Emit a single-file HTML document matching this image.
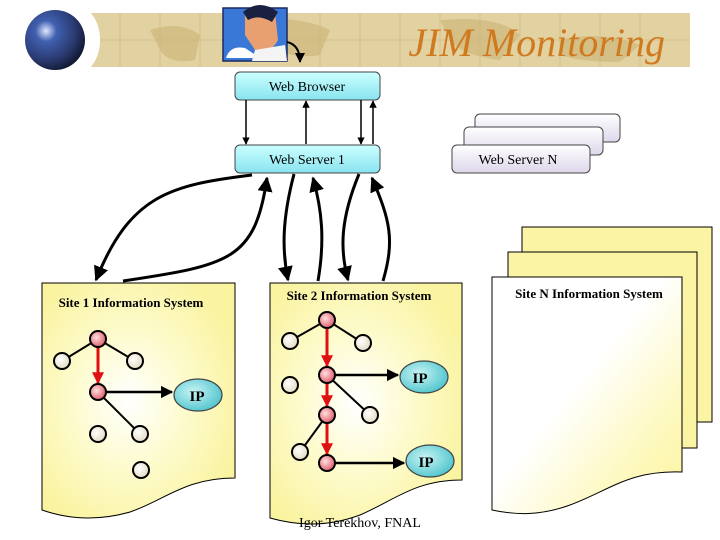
<!DOCTYPE html>
<html><head><meta charset="utf-8"><style>
html,body{margin:0;padding:0;background:#fff;}
svg{display:block;}
text{font-family:"Liberation Serif",serif;}
</style></head><body>
<svg width="720" height="540" viewBox="0 0 720 540" xmlns="http://www.w3.org/2000/svg">
<defs>
<radialGradient id="globe" cx="0.35" cy="0.35" r="0.7">
<stop offset="0" stop-color="#e0e8ff"/><stop offset="0.25" stop-color="#4060b0"/><stop offset="0.7" stop-color="#2a3a70"/><stop offset="1" stop-color="#101830"/></radialGradient>
<linearGradient id="cyan" x1="0" y1="0" x2="0" y2="1"><stop offset="0" stop-color="#ccffff"/><stop offset="1" stop-color="#88e4f0"/></linearGradient>
<linearGradient id="lav" x1="0" y1="0" x2="0" y2="1"><stop offset="0" stop-color="#ffffff"/><stop offset="1" stop-color="#ddd6ea"/></linearGradient>
<radialGradient id="paper" cx="0.45" cy="0.5" r="0.6"><stop offset="0" stop-color="#ffffff"/><stop offset="0.5" stop-color="#fdfbcc"/><stop offset="1" stop-color="#faf3a0"/></radialGradient>
<linearGradient id="paperN" x1="0" y1="0" x2="1" y2="1"><stop offset="0" stop-color="#ffffff"/><stop offset="0.45" stop-color="#ffffff"/><stop offset="0.8" stop-color="#fdf8b8"/><stop offset="1" stop-color="#faf3a0"/></linearGradient>
<radialGradient id="red" cx="0.4" cy="0.4" r="0.6"><stop offset="0" stop-color="#ffe0e0"/><stop offset="1" stop-color="#e06070"/></radialGradient>
<radialGradient id="beige" cx="0.4" cy="0.4" r="0.6"><stop offset="0" stop-color="#ffffff"/><stop offset="1" stop-color="#e4dcc4"/></radialGradient>
<radialGradient id="ip" cx="0.4" cy="0.4" r="0.6"><stop offset="0" stop-color="#c8f4f4"/><stop offset="1" stop-color="#58c8d0"/></radialGradient>
<marker id="ah" viewBox="0 0 10 10" refX="9" refY="5" markerWidth="5" markerHeight="5" orient="auto"><path d="M0,0L10,5L0,10z" fill="#000"/></marker>
<marker id="ahr" viewBox="0 0 10 10" refX="9" refY="5" markerWidth="4" markerHeight="4" orient="auto"><path d="M0,0L10,5L0,10z" fill="#e01010"/></marker>
</defs>
<!-- banner -->
<rect x="85" y="13" width="605" height="54" fill="#e2d2a2"/>
<g stroke="#d4c08a" stroke-width="1">
<path d="M120 13V67M160 13V67M200 13V67M320 13V67M360 13V67M400 13V67M440 13V67M480 13V67M520 13V67M560 13V67M600 13V67M640 13V67M85 40H690"/></g>
<path d="M150 30 Q180 20 200 35 L195 60 Q170 65 160 50z M250 20 Q300 15 330 30 L320 55 Q290 60 270 45z M440 20 Q500 15 520 35 L500 60 Q460 55 450 40z M560 40 Q600 30 640 45 L620 62 Q580 62 560 55z" fill="#cfb67c" opacity="0.7"/>
<ellipse cx="78" cy="40" rx="22" ry="33" fill="#fff"/>
<circle cx="55" cy="40" r="30" fill="url(#globe)"/>
<rect x="223" y="8" width="64" height="53" fill="#3a78d8" stroke="#1a2a60" stroke-width="1.5"/>
<path d="M226 58 Q230 45 245 48 L260 58z" fill="#fff"/>
<path d="M245 12 Q260 0 275 12 L278 40 Q270 55 255 50 L245 35z" fill="#e8a070"/>
<path d="M243 12 Q260 -2 278 12 L272 22 Q258 14 248 20z" fill="#1a2040"/>
<path d="M255 50 L285 45 L287 61 L252 61z" fill="#f4f4f4"/>
<path d="M287 42 Q300 45 300 62" fill="none" stroke="#000" stroke-width="2" marker-end="url(#ah)"/>
<text x="665" y="56" text-anchor="end" font-size="40" font-style="italic" fill="#d07a20">JIM Monitoring</text>
<!-- web boxes -->
<rect x="235" y="72" width="145" height="28" rx="5" fill="url(#cyan)" stroke="#444"/>
<text x="307" y="91" text-anchor="middle" font-size="14">Web Browser</text>
<rect x="235" y="145" width="145" height="28" rx="5" fill="url(#cyan)" stroke="#444"/>
<text x="307" y="164" text-anchor="middle" font-size="14">Web Server 1</text>
<rect x="475" y="114" width="145" height="28" rx="5" fill="url(#lav)" stroke="#444"/>
<rect x="464" y="127" width="139" height="28" rx="5" fill="url(#lav)" stroke="#444"/>
<rect x="452" y="145" width="138" height="28" rx="5" fill="url(#lav)" stroke="#444"/>
<text x="518" y="164" text-anchor="middle" font-size="14">Web Server N</text>
<g stroke="#000" stroke-width="1.5" fill="none" marker-end="url(#ah)">
<path d="M246 100V144"/><path d="M306 144V101"/><path d="M361 100V144"/><path d="M373 144V101"/>
</g>
<!-- curved connectors -->
<g stroke="#000" stroke-width="3" fill="none" marker-end="url(#ah)">
<path d="M252 175 C170 185 130 195 96 280"/>
<path d="M123 281 C230 265 255 260 267 178"/>
<path d="M294 174 C282 220 282 250 288 280"/>
<path d="M318 281 C325 240 322 210 313 178"/>
<path d="M359 174 C340 220 340 250 348 280"/>
<path d="M383 281 C395 240 390 220 372 178"/>
</g>
<!-- site N pages -->
<rect x="522" y="227" width="190" height="195" fill="#faf4a4" stroke="#000"/>
<rect x="508" y="252" width="189" height="196" fill="#faf4a4" stroke="#000"/>
<path d="M492 277H682V472 C630 470 610 490 570 505 C540 516 515 515 492 510z" fill="url(#paperN)" stroke="#000"/>
<text x="589" y="298" text-anchor="middle" font-size="13" font-weight="bold">Site N Information System</text>
<!-- site 1 -->
<path d="M42 283H235V478 C185 478 165 500 130 512 C95 522 65 518 42 510z" fill="url(#paper)" stroke="#000"/>
<text x="131" y="307" text-anchor="middle" font-size="13" font-weight="bold">Site 1 Information System</text>
<!-- site 2 -->
<path d="M270 283H462V480 C415 480 395 500 360 515 C325 528 295 525 270 518z" fill="url(#paper)" stroke="#000"/>
<text x="359" y="300" text-anchor="middle" font-size="13" font-weight="bold">Site 2 Information System</text>
<!-- site1 tree -->
<g stroke="#000" stroke-width="2" fill="none">
<path d="M98 339L62 361M98 339L135 361M98 392L140 434"/>
<path d="M290 341L327 320L363 343M327 375L370 415M327 415L300 452"/>
</g>
<g stroke="#000" stroke-width="2.5" fill="none" marker-end="url(#ah)">
<path d="M98 392H172"/><path d="M327 375H398"/><path d="M327 463H404"/>
</g>
<g stroke="#e01010" stroke-width="3" marker-end="url(#ahr)">
<path d="M98 347V383"/><path d="M327 328V366"/><path d="M327 383V406"/><path d="M327 423V454"/>
</g>
<g stroke="#000" stroke-width="2">
<circle cx="98" cy="339" r="8" fill="url(#red)"/><circle cx="98" cy="392" r="8" fill="url(#red)"/>
<circle cx="62" cy="361" r="8" fill="url(#beige)"/><circle cx="135" cy="361" r="8" fill="url(#beige)"/>
<circle cx="98" cy="434" r="8" fill="url(#beige)"/><circle cx="140" cy="434" r="8" fill="url(#beige)"/><circle cx="141" cy="470" r="8" fill="url(#beige)"/>
<circle cx="327" cy="320" r="8" fill="url(#red)"/><circle cx="327" cy="375" r="8" fill="url(#red)"/><circle cx="327" cy="415" r="8" fill="url(#red)"/><circle cx="327" cy="463" r="8" fill="url(#red)"/>
<circle cx="290" cy="341" r="8" fill="url(#beige)"/><circle cx="363" cy="343" r="8" fill="url(#beige)"/><circle cx="290" cy="385" r="8" fill="url(#beige)"/><circle cx="370" cy="415" r="8" fill="url(#beige)"/><circle cx="300" cy="452" r="8" fill="url(#beige)"/>
</g>
<g stroke="#444" stroke-width="1.2" fill="url(#ip)">
<ellipse cx="198" cy="395" rx="24" ry="16"/><ellipse cx="424" cy="377" rx="24" ry="16"/><ellipse cx="430" cy="461" rx="24" ry="16"/>
</g>
<g font-size="15" font-weight="bold" text-anchor="middle">
<text x="197" y="401">IP</text><text x="420" y="383">IP</text><text x="426" y="467">IP</text>
</g>
<text x="360" y="527" text-anchor="middle" font-size="14">Igor Terekhov, FNAL</text>
</svg>
</body></html>
